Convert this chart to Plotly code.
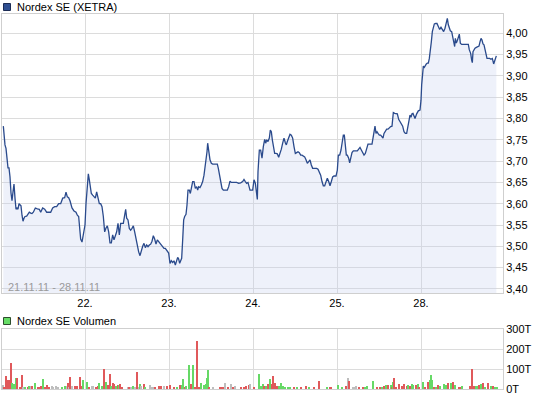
import plotly.graph_objects as go

# time axis: units of 1/252 of a trading day, day index 0 = 21.11.11
day_ticks = [252, 504, 756, 1008, 1260]
day_labels = ["22.", "23.", "24.", "25.", "28."]

price_t = [
    7, 9, 12, 15, 18, 21, 24, 27, 30, 33,
    36, 39, 42, 45, 48, 51, 54, 57, 60, 63,
    66, 69, 72, 77, 81, 85, 89, 93, 97, 103,
    109, 115, 119, 125, 131, 137, 143, 149, 155, 161,
    167, 173, 179, 185, 191, 195, 199, 203, 207, 213,
    219, 225, 229, 233, 236, 239, 243, 247, 249,
    252, 255, 259, 262, 265, 268, 271, 275, 279, 283,
    287, 291, 295, 299, 303, 307, 311, 315, 319, 323,
    327, 331, 335, 339, 343, 347, 351, 355, 359, 363,
    367, 371, 374, 377, 381, 385, 389, 393, 397, 401,
    405, 409, 413, 417, 421, 425, 429, 433, 437, 441,
    445, 449, 453, 457, 461, 465, 469, 473, 477, 481,
    485, 489, 493, 499,
    503, 507, 511, 515, 519, 523, 527, 530, 533, 536,
    539, 542, 545, 548, 551, 555, 558, 561, 565, 568,
    571, 575, 579, 583, 587, 590, 593, 597, 601, 605,
    609, 612, 615, 618, 620, 622, 624, 627, 631, 635,
    640, 645, 649, 652, 655, 659, 663, 667, 673, 679,
    683, 687, 691, 695, 701, 707, 713, 719, 725, 729,
    733, 737, 741, 747,
    755, 759, 763, 766, 769, 771, 775, 779, 783, 787,
    791, 794, 797, 801, 805, 808, 811, 814, 817, 821,
    825, 829, 833, 837, 841, 845, 849, 853, 856, 859,
    863, 867, 871, 875, 879, 883, 887, 891, 895, 899,
    903, 907, 911, 915, 919, 923, 927, 931, 935, 939,
    943, 947, 951, 955, 959, 963, 967, 971, 975, 979,
    983, 987, 991, 995, 999,
    1005, 1009, 1012, 1016, 1020, 1024, 1027, 1030, 1033, 1036,
    1039, 1043, 1046, 1049, 1053, 1057, 1061, 1065, 1069, 1073,
    1077, 1081, 1085, 1089, 1093, 1097, 1101, 1105, 1109, 1113,
    1116, 1119, 1122, 1125, 1128, 1131, 1135, 1139, 1143, 1146,
    1149, 1153, 1157, 1161, 1165, 1169, 1173, 1175, 1177, 1181,
    1185, 1189, 1193, 1197, 1201, 1205, 1209, 1213, 1217, 1221,
    1224, 1227, 1230, 1233, 1236, 1239, 1242, 1247, 1252, 1257,
    1260, 1262, 1264, 1267, 1270, 1273, 1276, 1279, 1282, 1285,
    1288, 1291, 1294, 1297, 1300, 1304, 1308, 1312, 1316, 1320,
    1324, 1328, 1332, 1336, 1339, 1342, 1345, 1348, 1352, 1355,
    1358, 1361, 1363, 1366, 1369, 1372, 1375, 1378, 1382, 1387,
    1392, 1397, 1402, 1405, 1409, 1412, 1414, 1416, 1419, 1422,
    1426, 1430, 1434, 1437, 1440, 1443, 1446, 1449, 1452, 1455,
    1458, 1462, 1466, 1470, 1474, 1478, 1481, 1484, 1486,
]

price_v = [
    3.782, 3.761, 3.738, 3.730, 3.710, 3.684, 3.684, 3.663, 3.625, 3.607,
    3.628, 3.646, 3.613, 3.587, 3.590, 3.587, 3.600, 3.597, 3.595, 3.573,
    3.559, 3.566, 3.570, 3.571, 3.576, 3.580, 3.578, 3.577, 3.580, 3.590,
    3.588, 3.587, 3.580, 3.590, 3.587, 3.580, 3.580, 3.580, 3.590, 3.593,
    3.593, 3.600, 3.600, 3.613, 3.614, 3.627, 3.616, 3.614, 3.607, 3.590,
    3.583, 3.580, 3.573, 3.570, 3.543, 3.517, 3.510, 3.533, 3.534,
    3.550, 3.600, 3.652, 3.670, 3.656, 3.632, 3.624, 3.620, 3.616, 3.613,
    3.628, 3.616, 3.600, 3.600, 3.593, 3.570, 3.534, 3.543, 3.548, 3.534,
    3.508, 3.508, 3.527, 3.515, 3.523, 3.534, 3.554, 3.527, 3.554, 3.554,
    3.554, 3.573, 3.587, 3.566, 3.562, 3.542, 3.538, 3.542, 3.548, 3.534,
    3.515, 3.503, 3.487, 3.478, 3.491, 3.500, 3.507, 3.497, 3.503, 3.499,
    3.503, 3.505, 3.512, 3.525, 3.517, 3.505, 3.515, 3.511, 3.507, 3.503,
    3.497, 3.495, 3.495, 3.487,
    3.484, 3.460, 3.466, 3.462, 3.466, 3.456, 3.466, 3.474, 3.470, 3.460,
    3.466, 3.472, 3.515, 3.562, 3.570, 3.575, 3.597, 3.632, 3.632, 3.624,
    3.636, 3.652, 3.652, 3.636, 3.640, 3.632, 3.640, 3.638, 3.644, 3.652,
    3.667, 3.683, 3.707, 3.722, 3.742, 3.726, 3.710, 3.703, 3.695, 3.693,
    3.693, 3.693, 3.693, 3.683, 3.667, 3.648, 3.636, 3.632, 3.632, 3.632,
    3.640, 3.653, 3.650, 3.650, 3.650, 3.650, 3.648, 3.649, 3.652, 3.657,
    3.652, 3.648, 3.650, 3.632,
    3.632, 3.656, 3.648, 3.628, 3.610, 3.675, 3.726, 3.726, 3.707, 3.734,
    3.751, 3.742, 3.750, 3.746, 3.754, 3.773, 3.769, 3.750, 3.730, 3.718,
    3.718, 3.717, 3.709, 3.718, 3.728, 3.742, 3.754, 3.743, 3.738, 3.746,
    3.757, 3.763, 3.761, 3.754, 3.734, 3.718, 3.720, 3.722, 3.720, 3.714,
    3.714, 3.712, 3.710, 3.703, 3.695, 3.699, 3.703, 3.691, 3.683, 3.683,
    3.683, 3.683, 3.681, 3.675, 3.667, 3.652, 3.642, 3.642, 3.652, 3.660,
    3.652, 3.642, 3.652, 3.663, 3.665,
    3.665, 3.679, 3.714, 3.714, 3.726, 3.746, 3.761, 3.761, 3.742, 3.714,
    3.714, 3.707, 3.696, 3.710, 3.720, 3.724, 3.724, 3.724, 3.724, 3.728,
    3.732, 3.726, 3.720, 3.714, 3.718, 3.730, 3.740, 3.740, 3.740, 3.740,
    3.754, 3.775, 3.782, 3.765, 3.769, 3.765, 3.761, 3.761, 3.757, 3.754,
    3.765, 3.771, 3.775, 3.775, 3.779, 3.781, 3.782, 3.797, 3.814, 3.812,
    3.812, 3.811, 3.798, 3.793, 3.789, 3.782, 3.769, 3.765, 3.765, 3.781,
    3.800, 3.808, 3.803, 3.811, 3.812, 3.806, 3.800, 3.811, 3.818, 3.820,
    3.843, 3.879, 3.910, 3.923, 3.920, 3.926, 3.928, 3.930, 3.930, 3.941,
    3.957, 3.980, 4.004, 4.016, 4.022, 4.023, 4.023, 4.016, 4.009, 4.014,
    4.009, 4.004, 4.012, 4.025, 4.035, 4.020, 4.009, 4.006, 4.004, 3.992,
    3.980, 3.969, 3.988, 3.977, 3.983, 3.992, 3.998, 3.977, 3.974, 3.974,
    3.974, 3.974, 3.974, 3.961, 3.953, 3.937, 3.931, 3.957, 3.962, 3.965,
    3.967, 3.969, 3.970, 3.980, 3.988, 3.984, 3.975, 3.973, 3.959, 3.945,
    3.941, 3.941, 3.941, 3.939, 3.941, 3.928, 3.936, 3.941, 3.947,
]

price_ticks = [3.40, 3.45, 3.50, 3.55, 3.60, 3.65, 3.70, 3.75, 3.80, 3.85, 3.90, 3.95, 4.00]

# volume in thousands (T)
vol_t = [
    7, 10, 15, 21, 25, 31, 34, 40, 45, 48, 57, 63, 67, 72, 81, 85, 89, 93, 103, 112,
    117, 121, 127, 133, 137, 145, 154, 157, 165, 172, 184, 193, 197, 200, 205, 208, 213, 221, 229, 238,
    243, 247, 259, 265, 272, 277, 284, 292, 295, 302, 310, 316, 320, 326, 331, 335, 340, 346, 350, 355,
    358, 364, 380, 385, 390, 397, 402, 409, 413, 417, 421, 428, 433, 446, 451, 457, 463, 475, 481, 488,
    497, 507, 520, 527, 538, 543, 547, 552, 556, 563, 570, 572, 577, 582, 587, 595, 601, 609, 614, 617,
    620, 625, 637, 657, 663, 667, 673, 681, 690, 697, 703, 719, 728, 735, 743, 747, 760, 775, 780, 785,
    790, 795, 800, 807, 812, 817, 823, 829, 834, 840, 845, 853, 862, 867, 879, 887, 900, 915, 923, 940,
    955, 978, 987, 991, 1012, 1022, 1035, 1041, 1045, 1055, 1060, 1065, 1075, 1087, 1092, 1099, 1117, 1129, 1137, 1144,
    1150, 1155, 1162, 1169, 1174, 1177, 1180, 1185, 1195, 1202, 1209, 1217, 1222, 1227, 1232, 1237, 1244, 1250, 1255, 1265,
    1272, 1282, 1287, 1290, 1294, 1300, 1305, 1312, 1317, 1330, 1335, 1342, 1350, 1355, 1362, 1373, 1378, 1384, 1407, 1413,
    1419, 1424, 1428, 1433, 1440, 1445, 1452, 1462, 1469, 1477, 1482, 1487,
]
vol_v = [
    17, 8, 63, 42, 42, 130, 30, 22, 55, 55, 5, 67, 8, 10, 5, 12, 12, 13, 27, 5,
    10, 13, 47, 5, 17, 5, 12, 10, 12, 5, 5, 13, 12, 27, 8, 58, 12, 12, 12, 58,
    12, 42, 35, 8, 12, 12, 8, 13, 28, 12, 97, 35, 17, 72, 12, 28, 22, 13, 17, 18,
    22, 8, 7, 8, 7, 13, 8, 82, 8, 22, 12, 22, 8, 18, 8, 10, 5, 15, 12, 12,
    13, 17, 8, 7, 18, 17, 47, 8, 13, 117, 22, 8, 117, 8, 238, 5, 28, 17, 22, 52,
    92, 5, 8, 5, 5, 8, 30, 10, 22, 10, 12, 10, 10, 12, 17, 22, 5, 72, 12, 22,
    12, 13, 22, 47, 25, 63, 27, 13, 13, 27, 13, 5, 7, 7, 5, 7, 7, 13, 7, 10,
    38, 7, 8, 8, 18, 5, 12, 52, 38, 8, 10, 13, 8, 7, 7, 13, 38, 7, 7, 7,
    13, 18, 18, 18, 10, 32, 55, 7, 25, 12, 25, 13, 17, 12, 23, 17, 20, 25, 8, 32,
    10, 32, 42, 67, 42, 10, 8, 17, 12, 22, 17, 30, 30, 32, 17, 8, 8, 13, 12, 97,
    12, 13, 12, 17, 22, 30, 8, 30, 12, 15, 8, 8,
]
# r = falling (red), g = rising (green), n = unchanged (grey)
vol_dir = list(
    "nrrrrrgggr" "rrngrgnrgr"
    "rrgrrrnnnn" "ggnrnrnrrr"
    "rggrnnrrgg" "rgrrgrrgrg"
    "rrnrngnrng" "nrgnnnrrrn"
    "rrrgrggrgg" "rrgrrrgggg"
    "grnrrrnrnr" "nrrrrnrggg"
    "rgrgrrrrgg" "ggggrgrrgr"
    "rgrrggrnrn" "nnrrgggrrg"
    "rgrgrgrrrr" "rrgrggrgrg"
    "rrgggrgrgg" "grgrgrrgrr"
    "rggrgrgrgr" "gg"
)

assert len(price_t) == len(price_v)
assert len(vol_t) == len(vol_v) == len(vol_dir)

dir_colors = {"r": "#e0595b", "g": "#66d966", "n": "#bdbdbd"}

GRID = "#dcdcdc"
LINE = "#cfcfcf"
FONT = "Liberation Sans, Arial, sans-serif"

fig = go.Figure()
fig.add_trace(go.Scatter(
    x=price_t, y=price_v, mode="lines",
    line=dict(color="#2a4a8c", width=1.3),
    fill="tozeroy", fillcolor="rgba(200,210,240,0.3)",
    xaxis="x", yaxis="y", hoverinfo="skip",
))
fig.add_trace(go.Bar(
    x=vol_t, y=vol_v, width=3,
    marker=dict(color=[dir_colors[c] for c in vol_dir], line=dict(width=0)),
    xaxis="x2", yaxis="y2", hoverinfo="skip",
))

W, H = 545, 398
ML, MR, MT, MB = 2, 42, 14, 9
PW, PH = W - ML - MR, H - MT - MB


def px_x(px):
    return (px - ML) / PW


def px_y(py):
    return (H - MB - py) / PH


axis_common = dict(showgrid=True, gridcolor=GRID, gridwidth=1, zeroline=False,
                   showline=True, linecolor=LINE, linewidth=1, mirror=True, ticks="",
                   automargin=False)

fig.update_layout(
    width=W, height=H,
    margin=dict(l=ML, r=MR, t=MT, b=MB, pad=0, autoexpand=False),
    paper_bgcolor="white", plot_bgcolor="white",
    showlegend=False, separators=",.",
    font=dict(family=FONT, size=11, color="black"),
    bargap=0, hovermode=False,
    xaxis=dict(domain=[0, 1], range=[3, 1506], anchor="y",
               tickmode="array", tickvals=day_ticks, ticktext=day_labels,
               tickfont=dict(size=11), **axis_common),
    yaxis=dict(domain=[px_y(293), 1], range=[3.3904, 4.0453], anchor="x", side="right",
               tickmode="array", tickvals=price_ticks, tickformat=".2f",
               tickfont=dict(size=11), **axis_common),
    xaxis2=dict(domain=[0, 1], range=[3, 1506], anchor="y2",
                tickmode="array", tickvals=day_ticks, showticklabels=False, **axis_common),
    yaxis2=dict(domain=[0, px_y(329.3)], range=[0, 300], anchor="x2", side="right",
                tickmode="array", tickvals=[0, 100, 200, 300],
                ticktext=["0T", "100T", "200T", "300T"],
                tickfont=dict(size=11), **axis_common),
)

fig.add_shape(type="rect", xref="paper", yref="paper",
              x0=px_x(3.5), x1=px_x(10.5), y0=px_y(10.5), y1=px_y(3.5),
              fillcolor="#2f4f91", line=dict(color="#1c2c55", width=1))
fig.add_shape(type="rect", xref="paper", yref="paper",
              x0=px_x(3.5), x1=px_x(10.5), y0=px_y(324.5), y1=px_y(317.5),
              fillcolor="#66dd66", line=dict(color="#2d4d2d", width=1))

fig.add_annotation(text="Nordex SE (XETRA)", xref="paper", yref="paper",
                   x=px_x(14.5), y=px_y(7), xanchor="left", yanchor="middle",
                   showarrow=False, font=dict(size=11, color="black"))
fig.add_annotation(text="Nordex SE Volumen", xref="paper", yref="paper",
                   x=px_x(14.5), y=px_y(321), xanchor="left", yanchor="middle",
                   showarrow=False, font=dict(size=11, color="black"))
fig.add_annotation(text="21.11.11 - 28.11.11", xref="paper", yref="paper",
                   x=px_x(6), y=px_y(286.5), xanchor="left", yanchor="middle",
                   showarrow=False, font=dict(size=11, color="#9a9a9a"))

fig.write_html("out.html", config={"displayModeBar": False},
               post_script="document.body.style.margin='0px';")
